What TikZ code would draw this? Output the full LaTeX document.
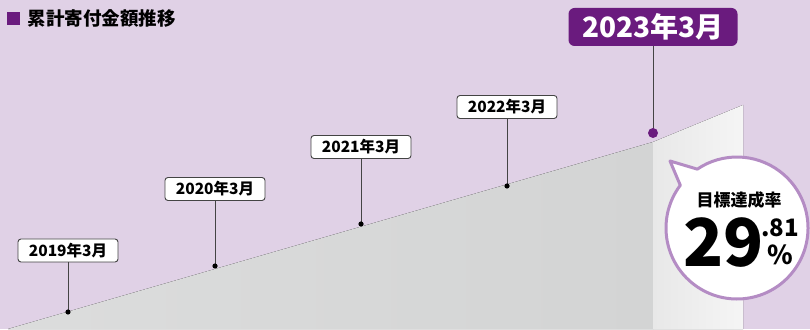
\documentclass[tikz,border=0pt]{standalone}
\usepackage{fontspec}
\setmainfont{Noto Sans CJK JP}
\usetikzlibrary{calc}
\definecolor{bgpurple}{HTML}{E0D1E6}
\definecolor{deeppurple}{HTML}{6A1B7E}
\definecolor{softpurple}{HTML}{B48CC4}
\definecolor{slopegray}{HTML}{D3D4D4}
\definecolor{leadgray}{HTML}{444444}

\begin{document}
\begin{tikzpicture}[x=1pt,y=1pt,
    yearbox/.style={draw=leadgray,fill=white,rounded corners=3pt,line width=0.9pt,
      minimum width=100pt,minimum height=23pt,inner sep=0pt,
      font=\fontsize{15.5}{17}\selectfont\bfseries},
    lead/.style={draw=leadgray,line width=1pt}]
    \fill[bgpurple] (0,0) rectangle (810,329);
    \useasboundingbox (0,0) rectangle (810,329);
    % slope and target panel
    \fill[left color=slopegray!80!white,right color=slopegray] (8,0) -- (653,187) -- (653,0) -- cycle;
    \fill[left color=black!9,right color=black!4] (653,0) -- (653,187) -- (743,224) -- (743,0) -- cycle;
    % title
    \fill[deeppurple] (7,304) rectangle (20,317);
    \node[anchor=west,font=\fontsize{18.5}{21}\selectfont\bfseries] (title) at (24,311) {累計寄付金額推移};
    % yearly points
    \coordinate (P19) at (68,17);
    \coordinate (P20) at (215,63);
    \coordinate (P21) at (361,105);
    \coordinate (P22) at (507,143);
    \coordinate (P23) at (653,196);
    \node[yearbox] (Y19) at (68,78.5) {2019年3月};
    \node[yearbox] (Y20) at (215,140) {2020年3月};
    \node[yearbox] (Y21) at (361,182) {2021年3月};
    \node[yearbox] (Y22) at (507,222) {2022年3月};
    \node[fill=deeppurple,text=white,rounded corners=6pt,minimum width=169pt,minimum height=38pt,
      inner sep=0pt,font=\fontsize{28}{30}\selectfont\bfseries] (Y23) at (653,302) {2023年3月};
    \draw[lead] (Y19) -- (P19);
    \draw[lead] (Y20) -- (P20);
    \draw[lead] (Y21) -- (P21);
    \draw[lead] (Y22) -- (P22);
    \draw[lead] (Y23) -- (P23);
    \fill (P19) circle (2.6);
    \fill (P20) circle (2.6);
    \fill (P21) circle (2.6);
    \fill (P22) circle (2.6);
    \fill[deeppurple] (P23) circle (5);
    % speech bubble
    \coordinate (C) at (737,101);
    \coordinate (tip) at (670,168);
    \draw[draw=softpurple,fill=white,line width=3pt,line join=round]
      ($(C)+(124:71)$) -- (tip) -- ($(C)+(143:71)$) arc[start angle=143,end angle=484,radius=71] -- cycle;
    \node[font=\fontsize{17}{20}\selectfont\bfseries] (rate) at (739,129) {目標達成率};
    \node[font=\fontsize{66}{70}\selectfont\bfseries,anchor=east,inner sep=0pt] (big) at (764,86) {29};
    \node[font=\fontsize{24}{26}\selectfont\bfseries,anchor=west,inner sep=0pt] (dec) at (761,101) {.81};
    \node[font=\fontsize{26}{28}\selectfont\bfseries,inner sep=0pt] (pct) at (780,74) {\%};
\end{tikzpicture}
\end{document}
